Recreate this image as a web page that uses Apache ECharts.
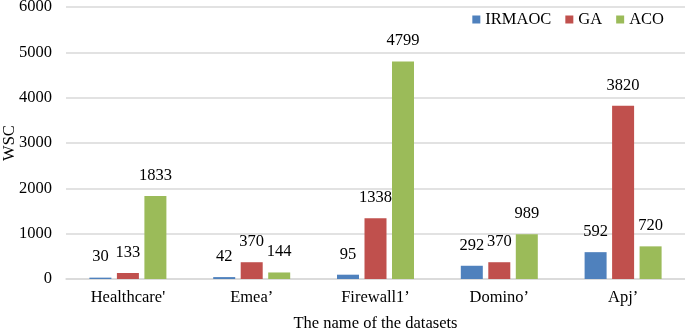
<!DOCTYPE html>
<html>
<head>
<meta charset="utf-8">
<script src="https://cdn.jsdelivr.net/npm/echarts@6/dist/echarts.min.js"></script>
<style>
  html, body { margin: 0; padding: 0; background: #fff; }
  #chart { width: 685px; height: 331px; }
</style>
</head>
<body>
<div id="chart"></div>
<script>
const categories = ["Healthcare'", "Emea\u2019", "Firewall1\u2019", "Domino\u2019", "Apj\u2019"];
const seriesNames = ["IRMAOC", "GA", "ACO"];
const irmaocValues = [30, 42, 95, 292, 592];
const gaValues = [133, 370, 1338, 370, 3820];
const acoValues = [1833, 144, 4799, 989, 720];
const yTicks = { min: 0, max: 6000, interval: 1000 };

const colors = ["#4F81BD", "#C0504D", "#9BBB59"];
const font = "'Liberation Serif', 'Times New Roman', serif";
const fontSize = 16.5;

const chart = echarts.init(document.getElementById("chart"));

const makeSeries = (name, values, color) => ({
  name,
  type: "bar",
  data: values,
  barWidth: 22,
  barGap: "25%",
  itemStyle: { color },
  label: {
    show: true,
    position: "top",
    distance: 12,
    color: "#000",
    fontFamily: font,
    fontSize,
  },
});

chart.setOption({
  animation: false,
  textStyle: { fontFamily: font },
  legend: {
    top: 6,
    right: 16,
    itemWidth: 8,
    itemHeight: 8,
    itemGap: 14,
    icon: "rect",
    textStyle: { fontFamily: font, fontSize, color: "#000" },
    data: seriesNames,
  },
  grid: {
    left: 66,
    right: 0,
    top: 7,
    bottom: 52,
    containLabel: false,
    outerBoundsMode: "none",
  },
  xAxis: {
    type: "category",
    data: categories,
    name: "The name of the datasets",
    nameLocation: "middle",
    nameGap: 36,
    nameTextStyle: { fontFamily: font, fontSize, color: "#000" },
    axisLine: { lineStyle: { color: "#d9d9d9", width: 1.5 } },
    axisTick: { show: false },
    axisLabel: { fontFamily: font, fontSize, color: "#000", margin: 10 },
  },
  yAxis: {
    type: "value",
    min: yTicks.min,
    max: yTicks.max,
    interval: yTicks.interval,
    name: "WSC",
    nameLocation: "middle",
    nameGap: 48,
    nameMoveOverlap: false,
    nameRotate: 90,
    nameTextStyle: { fontFamily: font, fontSize, color: "#000" },
    axisLine: { show: false },
    axisTick: { show: false },
    axisLabel: {
      fontFamily: font,
      fontSize,
      color: "#000",
      margin: 14,
      formatter: (v) => String(v),
    },
    splitLine: { lineStyle: { color: "#d9d9d9", width: 1.5 } },
  },
  series: [
    makeSeries(seriesNames[0], irmaocValues, colors[0]),
    makeSeries(seriesNames[1], gaValues, colors[1]),
    makeSeries(seriesNames[2], acoValues, colors[2]),
  ],
});
</script>
</body>
</html>
